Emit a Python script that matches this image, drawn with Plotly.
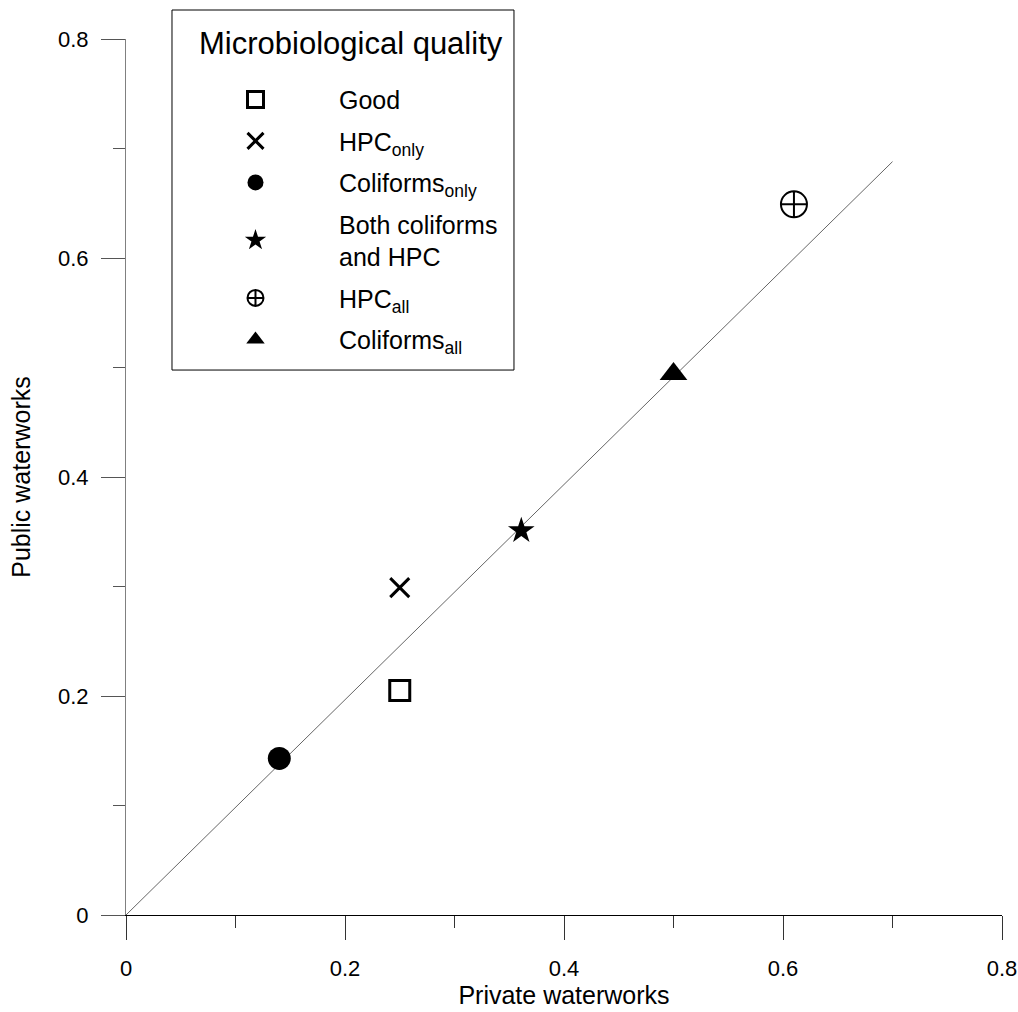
import plotly.graph_objects as go

# Data
categories = ["Good", "HPC<sub>only</sub>", "Coliforms<sub>only</sub>",
              "Both coliforms<br>and HPC", "HPC<sub>all</sub>", "Coliforms<sub>all</sub>"]
private_vals = [0.25, 0.25, 0.14, 0.361, 0.61, 0.50]
public_vals = [0.205, 0.299, 0.143, 0.351, 0.649, 0.494]
symbols = ["square-open", "x-thin-open", "circle", "star", "circle-cross-open", "triangle-up"]
sizes = [20, 19, 23, 20, 26, 24]
line_widths = [3, 3, 0, 0, 2, 0]

fit_x = [0.0, 0.70]
fit_y = [0.0, 0.688]

tick_vals = [0, 0.2, 0.4, 0.6, 0.8]
tick_text = ["0", "0.2", "0.4", "0.6", "0.8"]

legend_title = "Microbiological quality"

FONT = "Liberation Sans, Arial, sans-serif"

fig = go.Figure()

fig.add_trace(go.Scatter(
    x=fit_x, y=fit_y, mode="lines",
    line=dict(color="#666666", width=1),
    showlegend=False, hoverinfo="skip"))

for i, name in enumerate(categories):
    fig.add_trace(go.Scatter(
        x=[private_vals[i]], y=[public_vals[i]], mode="markers", name=name,
        legendgroup=f"g{i}",
        marker=dict(symbol=symbols[i], size=sizes[i], color="black",
                    line=dict(color="black", width=line_widths[i])),
        cliponaxis=False))

# legend frame and heading
fig.add_shape(type="rect", xref="paper", yref="paper",
              x0=0.0525, x1=0.4429, y0=0.6221, y1=1.0331,
              line=dict(color="black", width=1), fillcolor="rgba(0,0,0,0)",
              layer="above")
fig.add_annotation(text=legend_title, xref="paper", yref="paper",
                   x=0.257, y=0.9954, xanchor="center", yanchor="middle",
                   showarrow=False, font=dict(size=31, family=FONT, color="black"))

fig.update_layout(
    width=1018, height=1012,
    margin=dict(l=126, r=16, t=39, b=97),
    paper_bgcolor="white", plot_bgcolor="white",
    font=dict(family=FONT, size=22, color="black"),
    showlegend=True,
    legend=dict(
        x=0.0525, y=0.957, xanchor="left", yanchor="top",
        borderwidth=0, bgcolor="rgba(0,0,0,0)",
        font=dict(size=25, family=FONT),
        traceorder="grouped", tracegroupgap=6,
        itemwidth=157,
    ),
    xaxis=dict(
        range=[0, 0.8], tickvals=tick_vals, ticktext=tick_text,
        ticks="outside", ticklen=24, tickwidth=1, tickcolor="#333333",
        showline=True, linecolor="black", linewidth=1,
        showgrid=False, zeroline=False, automargin=False,
        minor=dict(dtick=0.1, ticks="outside", ticklen=12, tickcolor="#333333", showgrid=False),
        tickfont=dict(size=22), ticklabelstandoff=10,
        title=dict(text="Private waterworks", font=dict(size=25), standoff=2),
    ),
    yaxis=dict(
        range=[0, 0.8], tickvals=tick_vals, ticktext=tick_text,
        ticks="outside", ticklen=24, tickwidth=1, tickcolor="#555555",
        showline=True, linecolor="#808080", linewidth=1,
        showgrid=False, zeroline=False, automargin=False,
        minor=dict(dtick=0.1, ticks="outside", ticklen=12, tickcolor="#555555", showgrid=False),
        tickfont=dict(size=22), ticklabelstandoff=8,
        title=dict(text="Public waterworks", font=dict(size=25), standoff=20),
    ),
)

fig.write_html("out.html")
